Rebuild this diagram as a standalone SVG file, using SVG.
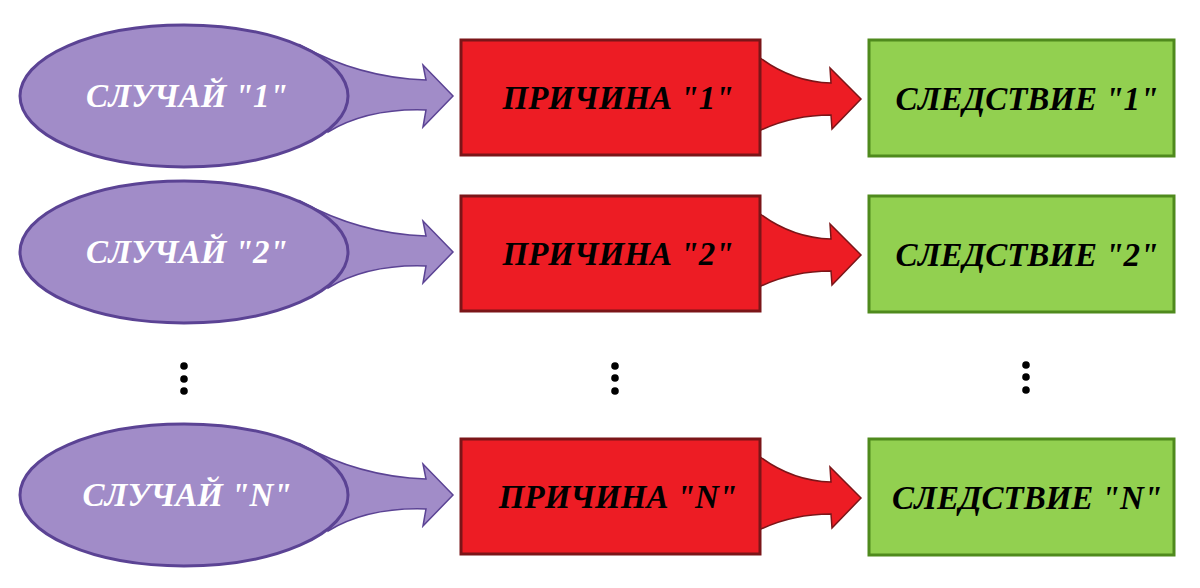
<svg xmlns="http://www.w3.org/2000/svg" width="1200" height="588" viewBox="0 0 1200 588">
<style>
.ell{fill:#a18cc8;stroke:#5b4394;stroke-width:3}
.parr{fill:#a18cc8;stroke:#5b4394;stroke-width:1.5}
.red{fill:#ed1c24;stroke:#7b1518;stroke-width:3}
.rarr{fill:#ed1c24;stroke:#7b1518;stroke-width:1.5}
.grn{fill:#92d050;stroke:#4f8a1d;stroke-width:3}
text{font-family:"Liberation Serif","Times New Roman",serif;font-weight:bold;font-style:italic;font-size:33px;text-anchor:middle}
.w{fill:#ffffff}
.k{fill:#000000}
.dot{fill:#000000}
</style>
<defs>
<path id="parrow" class="parr" d="M 300 45 Q 360 78 426 80 L 423 65 L 453 96 L 423 127 L 426 110 Q 368 108 328 132 Z"/>
<path id="rarrow" class="rarr" d="M 759 57 Q 792 82 831 83 L 830 68 L 861 99 L 832 129 L 831 115 Q 792 115 759 131 Z"/>
</defs>
<g id="connectors">
<use href="#parrow"/>
<use href="#rarrow"/>
<use href="#parrow" transform="translate(0,156)"/>
<use href="#rarrow" transform="translate(0,156)"/>
<use href="#parrow" transform="translate(0,399)"/>
<use href="#rarrow" transform="translate(0,399)"/>
</g>
<g id="case1"><ellipse class="ell" cx="184" cy="96" rx="164" ry="71"/><text class="w" x="187" y="107">СЛУЧАЙ "1"</text></g>
<g id="cause1"><rect class="red" x="461" y="40" width="299" height="115"/><text class="k" x="618" y="109">ПРИЧИНА "1"</text></g>
<g id="effect1"><rect class="grn" x="869" y="40" width="305" height="116"/><text class="k" x="1027" y="110">СЛЕДСТВИЕ "1"</text></g>

<g id="case2"><ellipse class="ell" cx="184" cy="252" rx="164" ry="71"/><text class="w" x="187" y="263">СЛУЧАЙ "2"</text></g>
<g id="cause2"><rect class="red" x="461" y="196" width="299" height="115"/><text class="k" x="618" y="265">ПРИЧИНА "2"</text></g>
<g id="effect2"><rect class="grn" x="869" y="196" width="305" height="116"/><text class="k" x="1027" y="266">СЛЕДСТВИЕ "2"</text></g>

<g id="caseN"><ellipse class="ell" cx="184" cy="495" rx="164" ry="71"/><text class="w" x="187" y="506">СЛУЧАЙ "N"</text></g>
<g id="causeN"><rect class="red" x="461" y="439" width="299" height="115"/><text class="k" x="618" y="508">ПРИЧИНА "N"</text></g>
<g id="effectN"><rect class="grn" x="869" y="439" width="305" height="116"/><text class="k" x="1027" y="509">СЛЕДСТВИЕ "N"</text></g>

<g id="dots">
<circle class="dot" cx="184" cy="366" r="3.8"/><circle class="dot" cx="184" cy="379" r="3.8"/><circle class="dot" cx="184" cy="391" r="3.8"/>
<circle class="dot" cx="615" cy="366" r="3.8"/><circle class="dot" cx="615" cy="378" r="3.8"/><circle class="dot" cx="615" cy="391" r="3.8"/>
<circle class="dot" cx="1026" cy="365" r="3.8"/><circle class="dot" cx="1026" cy="377" r="3.8"/><circle class="dot" cx="1026" cy="390" r="3.8"/>
</g>
</svg>
